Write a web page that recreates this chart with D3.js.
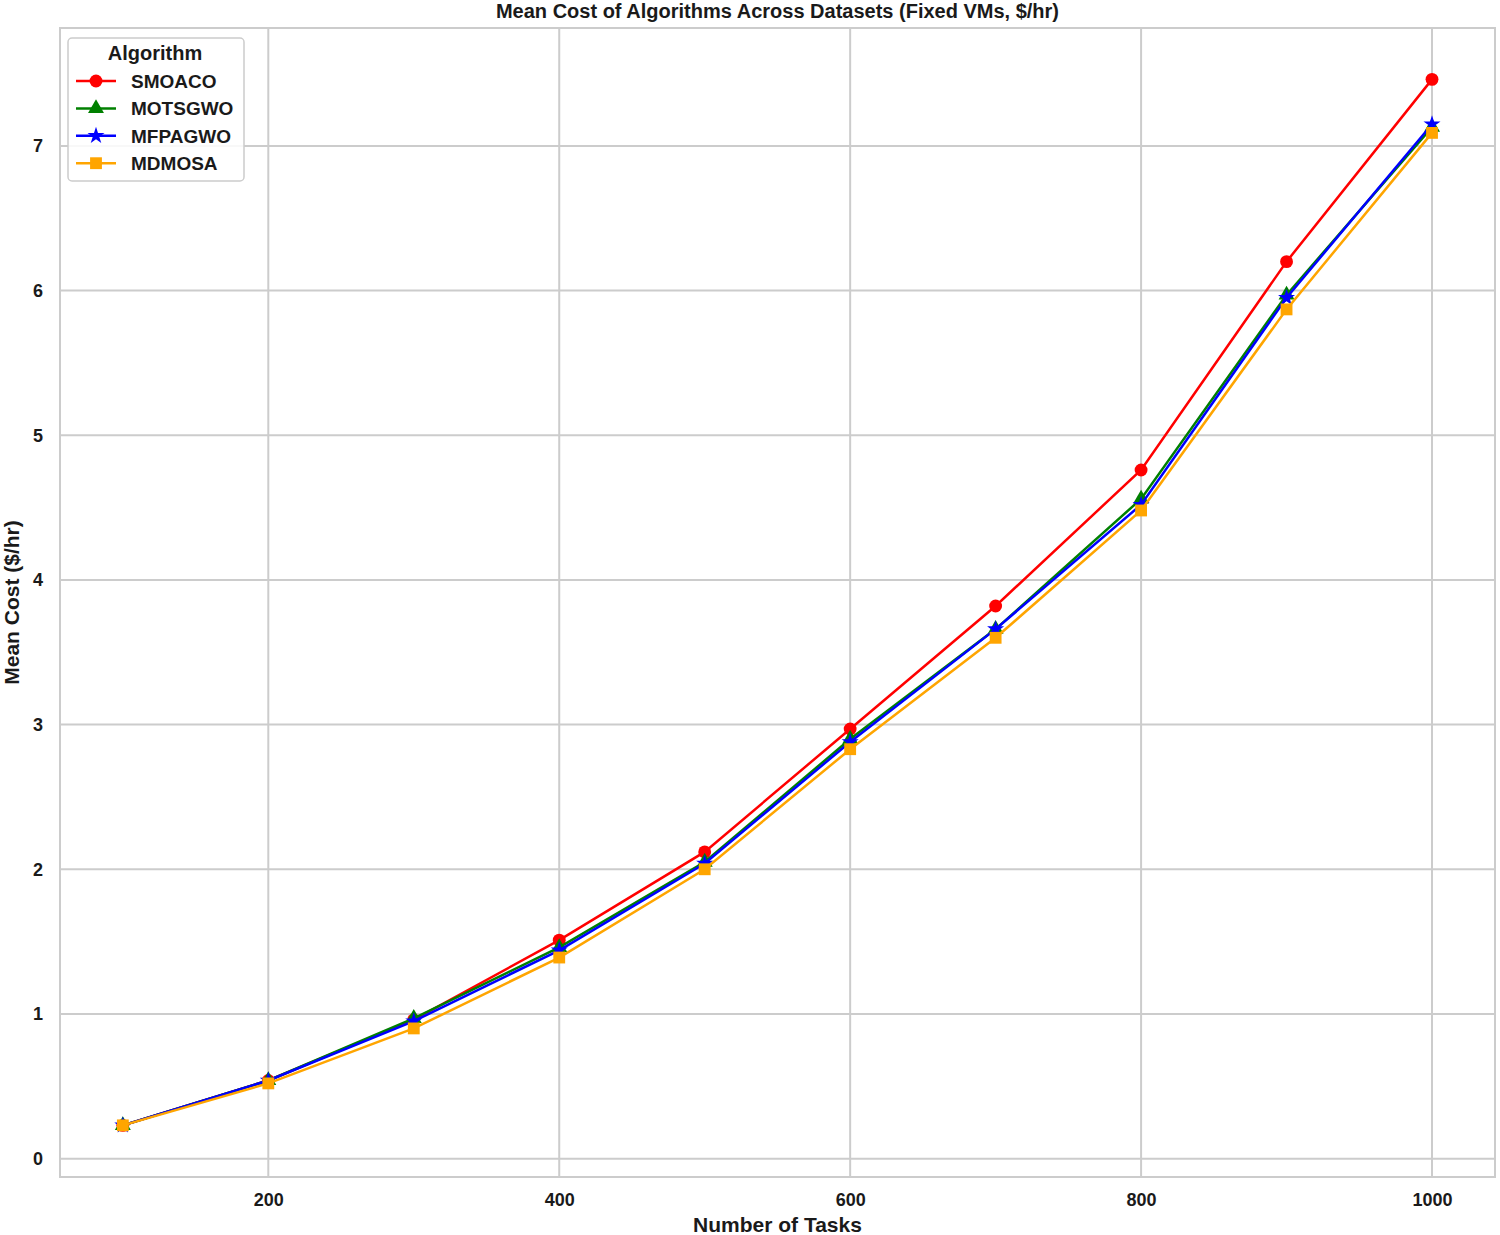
<!DOCTYPE html>
<html>
<head>
<meta charset="utf-8">
<script src="https://cdn.jsdelivr.net/npm/d3@7"></script>
<style>
  body { margin: 0; background: #fff; }
  text { font-family: "Liberation Sans", Arial, sans-serif; font-weight: bold; fill: #1a1a1a; }
</style>
</head>
<body>
<svg id="chart" width="1500" height="1235"></svg>
<script>
// data
const tasks = [100, 200, 300, 400, 500, 600, 700, 800, 900, 1000];
const smoaco   = [0.23, 0.54, 0.96, 1.51, 2.12, 2.97, 3.82, 4.76, 6.20, 7.46];
const motsgwo  = [0.23, 0.54, 0.97, 1.46, 2.05, 2.90, 3.66, 4.56, 5.97, 7.13];
const mfpagwo  = [0.23, 0.54, 0.95, 1.44, 2.04, 2.88, 3.66, 4.52, 5.95, 7.15];
const mdmosa   = [0.23, 0.52, 0.90, 1.39, 2.00, 2.83, 3.60, 4.48, 5.87, 7.09];
const xTicks = [200, 400, 600, 800, 1000];
const yTicks = [0, 1, 2, 3, 4, 5, 6, 7];

const series = [
  { name: 'SMOACO',  values: smoaco,  color: '#ff0000', symbol: d3.symbolCircle,   size: 130 },
  { name: 'MOTSGWO', values: motsgwo, color: '#008000', symbol: d3.symbolTriangle, size: 110 },
  { name: 'MFPAGWO', values: mfpagwo, color: '#0000ff', symbol: d3.symbolStar,     size: 90 },
  { name: 'MDMOSA',  values: mdmosa,  color: '#ffa500', symbol: d3.symbolSquare,   size: 140 }
];

const svg = d3.select('#chart');
const margin = { top: 28, right: 5, bottom: 58, left: 60 };
const W = 1500, H = 1235;
const pw = W - margin.left - margin.right;
const ph = H - margin.top - margin.bottom;

const x = d3.scaleLinear().domain([56.8, 1043.3]).range([0, pw]);
const y = d3.scaleLinear().domain([-0.127, 7.815]).range([ph, 0]);

const g = svg.append('g')
  .attr('transform', 'translate(' + margin.left + ',' + margin.top + ')');

// gridlines
g.append('g')
  .selectAll('line')
  .data(xTicks)
  .join('line')
  .attr('x1', d => x(d)).attr('x2', d => x(d))
  .attr('y1', 0).attr('y2', ph)
  .attr('stroke', '#cccccc').attr('stroke-width', 2);

g.append('g')
  .selectAll('line')
  .data(yTicks)
  .join('line')
  .attr('x1', 0).attr('x2', pw)
  .attr('y1', d => y(d)).attr('y2', d => y(d))
  .attr('stroke', '#cccccc').attr('stroke-width', 2);

// frame
g.append('rect')
  .attr('width', pw).attr('height', ph)
  .attr('fill', 'none')
  .attr('stroke', '#cccccc').attr('stroke-width', 2);

// axes (labels only, seaborn whitegrid look)
const xAxis = g.append('g')
  .attr('transform', 'translate(0,' + ph + ')')
  .call(d3.axisBottom(x).tickValues(xTicks).tickFormat(d3.format('d')).tickSize(0).tickPadding(16));
xAxis.select('.domain').remove();
xAxis.selectAll('text').style('font-size', '18px');

const yAxis = g.append('g')
  .call(d3.axisLeft(y).tickValues(yTicks).tickFormat(d3.format('d')).tickSize(0).tickPadding(17));
yAxis.select('.domain').remove();
yAxis.selectAll('text').style('font-size', '18px');

// lines and markers
const line = d3.line()
  .x((d, i) => x(tasks[i]))
  .y(d => y(d));

series.forEach(s => {
  g.append('path')
    .datum(s.values)
    .attr('fill', 'none')
    .attr('stroke', s.color)
    .attr('stroke-width', 2.5)
    .attr('d', line);

  g.append('g')
    .selectAll('path')
    .data(s.values)
    .join('path')
    .attr('transform', (d, i) => 'translate(' + x(tasks[i]) + ',' + y(d) + ')')
    .attr('d', d3.symbol().type(s.symbol).size(s.size))
    .attr('fill', s.color);
});

// title & axis labels
svg.append('text')
  .attr('x', margin.left + pw / 2).attr('y', 18)
  .attr('text-anchor', 'middle')
  .style('font-size', '20px')
  .text('Mean Cost of Algorithms Across Datasets (Fixed VMs, $/hr)');

svg.append('text')
  .attr('x', margin.left + pw / 2).attr('y', 1232)
  .attr('text-anchor', 'middle')
  .style('font-size', '21px')
  .text('Number of Tasks');

svg.append('text')
  .attr('transform', 'translate(19,' + (margin.top + ph / 2) + ') rotate(-90)')
  .attr('text-anchor', 'middle')
  .style('font-size', '21px')
  .text('Mean Cost ($/hr)');

// legend
const lg = svg.append('g').attr('transform', 'translate(68,38)');
lg.append('rect')
  .attr('width', 176).attr('height', 143).attr('rx', 4)
  .attr('fill', '#fff').attr('fill-opacity', 0.85)
  .attr('stroke', '#cccccc').attr('stroke-width', 1.5);
lg.append('text')
  .attr('x', 87).attr('y', 22)
  .attr('text-anchor', 'middle')
  .style('font-size', '20px')
  .text('Algorithm');

const items = lg.selectAll('g.item')
  .data(series)
  .join('g')
  .attr('transform', (d, i) => 'translate(0,' + (43 + i * 27.4) + ')');
items.append('line')
  .attr('x1', 8).attr('x2', 48)
  .attr('stroke', d => d.color).attr('stroke-width', 2.5);
items.append('path')
  .attr('transform', 'translate(28,0)')
  .attr('d', d => d3.symbol().type(d.symbol).size(d.size)())
  .attr('fill', d => d.color);
items.append('text')
  .attr('x', 63).attr('y', 7)
  .style('font-size', '19px')
  .text(d => d.name);
</script>
</body>
</html>
